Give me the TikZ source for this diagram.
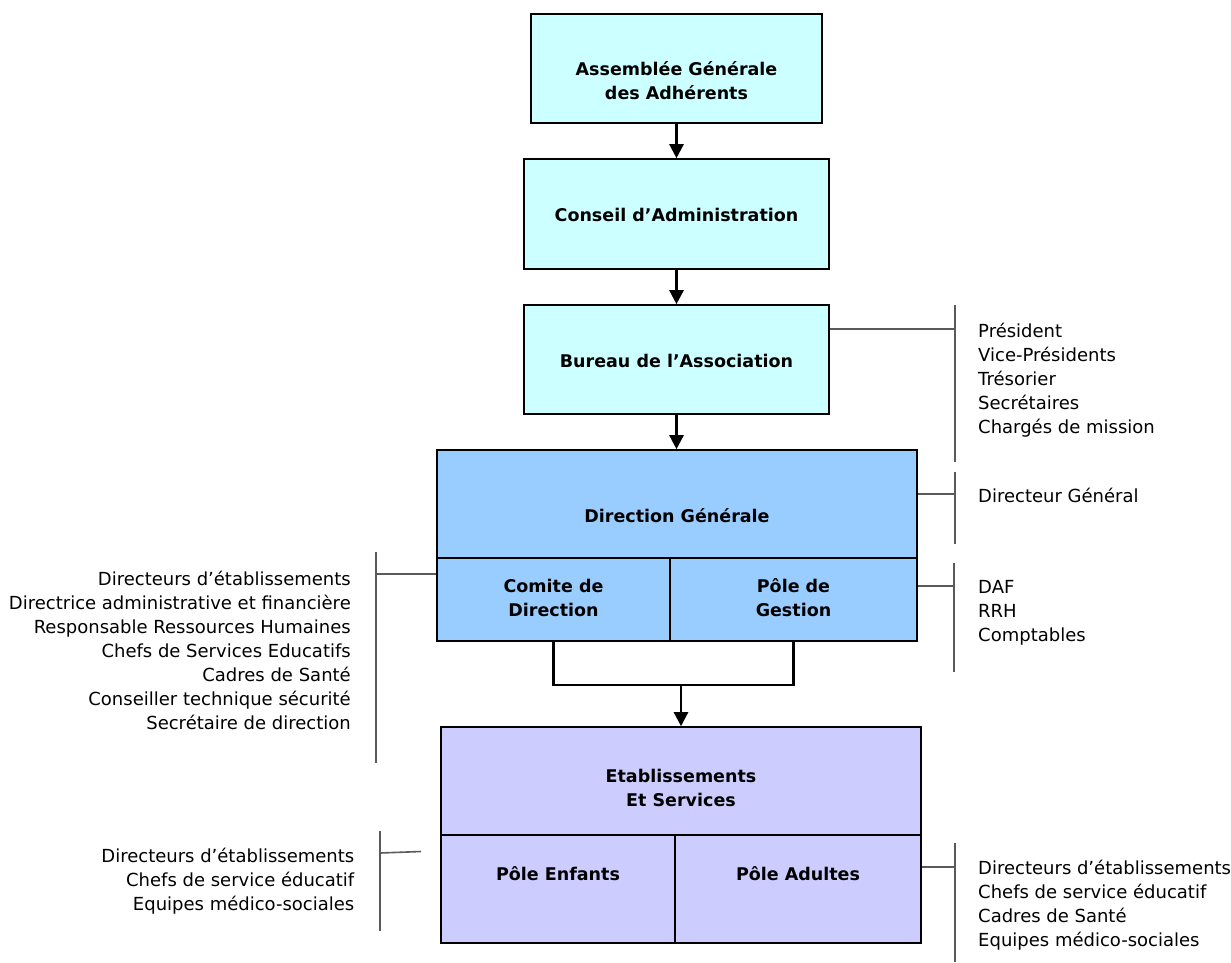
\documentclass[tikz,border=0pt]{standalone}
\usepackage{fontspec}
\setmainfont{DejaVu Sans}
\usepackage{xcolor}
\usetikzlibrary{arrows.meta}

\definecolor{topcyan}{HTML}{CCFFFF}
\definecolor{dirblue}{HTML}{99CCFF}
\definecolor{estviolet}{HTML}{CCCCFF}
\definecolor{tiegray}{HTML}{5A5A5A}

\tikzset{
  box/.style={draw=black, line width=1.6pt, inner sep=0pt},
  topbox/.style={box, fill=topcyan},
  dirbox/.style={box, fill=dirblue},
  estbox/.style={box, fill=estviolet},
  title/.style={font=\bfseries\fontsize{17.5}{24}\selectfont, align=center, inner sep=0pt},
  list/.style={font=\fontsize{18}{24}\selectfont, inner sep=0pt},
  flow/.style={line width=2.4pt, -{Triangle[length=14pt,width=14pt]}},
  tie/.style={draw=tiegray, line width=1.6pt}
}

\begin{document}
\begin{tikzpicture}[x=1pt, y=-1pt]

\useasboundingbox (0,0) rectangle (1231,962);

% boxes
\node[topbox, minimum width=291pt, minimum height=109pt,
  label={[title, yshift=-12.5pt]center:Assemblée Générale\\des Adhérents}] (ag) at (676.5,68.5) {};
\node[topbox, minimum width=305pt, minimum height=110pt,
  label={[title, yshift=-1pt]center:Conseil d’Administration}] (ca) at (676.5,214) {};
\node[topbox, minimum width=305pt, minimum height=109pt,
  label={[title, yshift=-1.5pt]center:Bureau de l’Association}] (bu) at (676.5,359.5) {};

\node[dirbox, minimum width=480pt, minimum height=108pt,
  label={[title, yshift=-12pt]center:Direction Générale}] (dg) at (677,504) {};
\node[dirbox, minimum width=233pt, minimum height=83pt,
  label={[title, yshift=2pt]center:Comite de\\Direction}] (cd) at (553.5,599.5) {};
\node[dirbox, minimum width=247pt, minimum height=83pt,
  label={[title, yshift=2pt]center:Pôle de\\Gestion}] (pg) at (793.5,599.5) {};

\node[estbox, minimum width=480pt, minimum height=108pt,
  label={[title, yshift=-7pt]center:Etablissements\\Et Services}] (es) at (681,781) {};
\node[estbox, minimum width=234pt, minimum height=108pt,
  label={[title, yshift=15pt]center:Pôle Enfants}] (pe) at (558,889) {};
\node[estbox, minimum width=246pt, minimum height=108pt,
  label={[title, yshift=15pt]center:Pôle Adultes}] (pa) at (798,889) {};

% arrows
\draw[flow] (ag.south) -- (ca.north);
\draw[flow] (ca.south) -- (bu.north);
\draw[flow] (bu.south) -- (bu.south |- dg.north);

\coordinate (jn) at (681,685);
\draw[line width=2.4pt] (cd.south) |- (jn) -| (pg.south);
\draw[flow] (jn) -- (jn |- es.north);

% member lists
\node[list, anchor=west, align=left] (bu-list) at (978,380.5)
  {Président\\Vice-Présidents\\Trésorier\\Secrétaires\\Chargés de mission};
\node[list, anchor=west, align=left] (dg-list) at (978,495) {Directeur Général};
\node[list, anchor=west, align=left] (pg-list) at (978,613) {DAF\\RRH\\Comptables};
\node[list, anchor=west, align=left] (pa-list) at (978,905.5)
  {Directeurs d’établissements\\Chefs de service éducatif\\Cadres de Santé\\Equipes médico-sociales};
\node[list, anchor=east, align=right] (cd-list) at (351,650.5)
  {Directeurs d’établissements\\Directrice administrative et financière\\Responsable Ressources Humaines\\Chefs de Services Educatifs\\Cadres de Santé\\Conseiller technique sécurité\\Secrétaire de direction};
\node[list, anchor=east, align=right] (pe-list) at (354.5,881.5)
  {Directeurs d’établissements\\Chefs de service éducatif\\Equipes médico-sociales};

% ties
\coordinate (bu-tie) at (955,329);
\draw[tie] (955,305) -- (955,462);
\draw[tie] (bu.east |- bu-tie) -- (bu-tie);

\coordinate (dg-tie) at (955,494);
\draw[tie] (955,472) -- (955,544);
\draw[tie] (dg.east |- dg-tie) -- (dg-tie);

\coordinate (pg-tie) at (954,586);
\draw[tie] (954,563) -- (954,672);
\draw[tie] (pg.east |- pg-tie) -- (pg-tie);

\coordinate (pa-tie) at (955,867);
\draw[tie] (955,843) -- (955,962);
\draw[tie] (pa.east |- pa-tie) -- (pa-tie);

\coordinate (cd-tie) at (376,574);
\draw[tie] (376,552) -- (376,763);
\draw[tie] (cd.west |- cd-tie) -- (cd-tie);

\coordinate (pe-tie) at (380,853);
\coordinate (pe-end) at (421,851.5);
\draw[tie] (380,831) -- (380,931);
\draw[tie] (pe-tie) -- (pe-end);

\end{tikzpicture}
\end{document}
